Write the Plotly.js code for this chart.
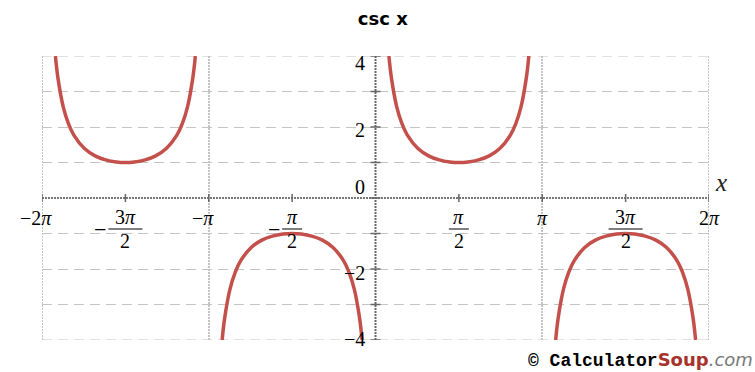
<!DOCTYPE html>
<html>
<head>
<meta charset="utf-8">
<script src="https://cdn.plot.ly/plotly-3.0.1.min.js"></script>
<style>html,body{margin:0;padding:0;background:#fff}#chart{width:755px;height:372px}</style>
</head>
<body>
<div id="chart"></div>
<script>
// csc x branches
var xA = [-6.0305,-5.9832,-5.8832,-5.7832,-5.6832,-5.4832,-5.2832,-5.0832,-4.8832,-4.7124,-4.5416,-4.3416,-4.1416,-3.9416,-3.7416,-3.6416,-3.5416,-3.4416,-3.3943];
var yA = [4.0,3.384,2.568,2.086,1.771,1.394,1.188,1.073,1.015,1.0,1.015,1.073,1.188,1.394,1.771,2.086,2.568,3.384,4.0];
var xB = [-2.8889,-2.8416,-2.7416,-2.6416,-2.5416,-2.3416,-2.1416,-1.9416,-1.7416,-1.5708,-1.4,-1.2,-1.0,-0.8,-0.6,-0.5,-0.4,-0.3,-0.2527];
var yB = [-4.0,-3.384,-2.568,-2.086,-1.771,-1.394,-1.188,-1.073,-1.015,-1.0,-1.015,-1.073,-1.188,-1.394,-1.771,-2.086,-2.568,-3.384,-4.0];
var xC = [0.2527,0.3,0.4,0.5,0.6,0.8,1.0,1.2,1.4,1.5708,1.7416,1.9416,2.1416,2.3416,2.5416,2.6416,2.7416,2.8416,2.8889];
var yC = [4.0,3.384,2.568,2.086,1.771,1.394,1.188,1.073,1.015,1.0,1.015,1.073,1.188,1.394,1.771,2.086,2.568,3.384,4.0];
var xD = [3.3943,3.4416,3.5416,3.6416,3.7416,3.9416,4.1416,4.3416,4.5416,4.7124,4.8832,5.0832,5.2832,5.4832,5.6832,5.7832,5.8832,5.9832,6.0305];
var yD = [-4.0,-3.384,-2.568,-2.086,-1.771,-1.394,-1.188,-1.073,-1.015,-1.0,-1.015,-1.073,-1.188,-1.394,-1.771,-2.086,-2.568,-3.384,-4.0];

// x tick labels (multiples of pi)
var xTickMult = [-2,-1.5,-1,-0.5,0.5,1,1.5,2];
var xTickSign = ['−','−','−','−','','','',''];
var xTickNum  = ['2π','3π','π','π','π','π','3π','2π'];
var xTickDen  = ['','2','','2','2','','2',''];
// y tick labels
var yTickVals = [4,2,0,-2,-4];
var yTickText = ['4','2','0','−2','−4'];
var yTickShift = [-7,-3,11,-4,1];

var PI = Math.PI;
var serif = 'Liberation Serif, Times New Roman, serif';
var curveColor = '#c4504b';
var vGrid = {color:'#c4c4c4', width:2, dash:'2px,1px'};
var hGrid = {color:'#c4c4c4', width:1, dash:'10px,6px'};

function branch(x, y){
  return {x:x, y:y, type:'scatter', mode:'lines', hoverinfo:'skip',
    line:{color:curveColor, width:3.5, shape:'spline', smoothing:1}, showlegend:false};
}
var data = [branch(xA,yA), branch(xB,yB), branch(xC,yC), branch(xD,yD)];

var shapes = [];
var annotations = [];

// frame lines (grid at range edges)
shapes.push({type:'line', xref:'x', yref:'y', x0:-2*PI, x1:-2*PI, y0:-4, y1:4, line:vGrid, layer:'below'});
shapes.push({type:'line', xref:'x', yref:'y', x0:2*PI, x1:2*PI, y0:-4, y1:4, line:vGrid, layer:'below'});
shapes.push({type:'line', xref:'x', yref:'y', x0:-2*PI, x1:2*PI, y0:4, y1:4, line:hGrid, layer:'below'});
shapes.push({type:'line', xref:'x', yref:'y', x0:-2*PI, x1:2*PI, y0:-4, y1:-4, line:hGrid, layer:'below'});

// axes lines
shapes.push({type:'line', xref:'x', yref:'y', x0:-2*PI, x1:2*PI, y0:0, y1:0, line:{color:'#777', width:2, dash:'2px,1px'}});
shapes.push({type:'line', xref:'x', yref:'y', x0:0, x1:0, y0:-4, y1:4, line:{color:'#666', width:2, dash:'2px,1px'}});

// y ticks
for (var v=-4; v<=4; v++){
  shapes.push({type:'line', xref:'x', yref:'y', xsizemode:'pixel', xanchor:0, x0:-5, x1:5, y0:v, y1:v, line:{color:'#666', width:1.5}});
}
// x ticks
for (var i=0;i<xTickMult.length;i++){
  shapes.push({type:'line', xref:'x', yref:'y', ysizemode:'pixel', yanchor:0, y0:-4, y1:4, x0:xTickMult[i]*PI, x1:xTickMult[i]*PI, line:{color:'#666', width:1.5}});
}

// x tick labels
for (var i=0;i<xTickMult.length;i++){
  var xv = xTickMult[i]*PI;
  var frac = xTickDen[i] !== '';
  var num = xTickNum[i].replace('π','<i>π</i>');
  if (!frac){
    annotations.push({x:xv, y:0, xref:'x', yref:'y', showarrow:false,
      text:xTickSign[i]+num, yshift:-20, xshift:(xTickSign[i]?-6:0),
      font:{family:serif, size:20, color:'#000'}});
  } else {
    annotations.push({x:xv, y:0, xref:'x', yref:'y', showarrow:false, text:num, yshift:-19,
      font:{family:serif, size:20, color:'#000'}});
    annotations.push({x:xv, y:0, xref:'x', yref:'y', showarrow:false, text:xTickDen[i], yshift:-43,
      font:{family:serif, size:20, color:'#000'}});
    var w = xTickNum[i].length > 1 ? 17 : 10;
    shapes.push({type:'line', xref:'x', yref:'y', xsizemode:'pixel', xanchor:xv, ysizemode:'pixel', yanchor:0,
      x0:-w, x1:w, y0:-31, y1:-31, line:{color:'#000', width:1}});
    if (xTickSign[i]){
      annotations.push({x:xv, y:0, xref:'x', yref:'y', showarrow:false, text:xTickSign[i], yshift:-31,
        xanchor:'right', xshift:-w, font:{family:serif, size:22, color:'#000'}});
    }
  }
}
// y tick labels
for (var j=0;j<yTickVals.length;j++){
  annotations.push({x:0, y:yTickVals[j], xref:'x', yref:'y', showarrow:false, text:yTickText[j],
    xanchor:'right', xshift:-9, yshift:yTickShift[j], font:{family:serif, size:20, color:'#000'}});
}
// x axis name
annotations.push({x:1, y:0, xref:'paper', yref:'y', showarrow:false, text:'<i>x</i>', xanchor:'left', xshift:4, yshift:16,
  font:{family:serif, size:25, color:'#222'}});
// watermark
annotations.push({x:1, y:0, xref:'paper', yref:'paper', showarrow:false, xanchor:'right', yanchor:'top', yshift:-7, xshift:46,
  text:'<b>© Calculator</b><span style="color:#a8322a;font-family:DejaVu Sans"><b>Soup</b></span><span style="color:#777;font-family:DejaVu Sans"><i>.com</i></span>',
  font:{family:'Liberation Mono, Courier New, monospace', size:18, color:'#000'}});

var layout = {
  width:755, height:372,
  margin:{l:42, r:46, t:56, b:32, pad:0},
  paper_bgcolor:'#fff', plot_bgcolor:'#fff',
  title:{text:'<b>csc x</b>', x:0.507, xanchor:'center', y:0.95, yanchor:'middle',
    font:{family:'DejaVu Sans, Verdana, sans-serif', size:18, color:'#000'}},
  xaxis:{range:[-2*PI, 2*PI], tickvals:[-PI,PI], showticklabels:false, ticks:'',
    showgrid:true, gridcolor:'#c4c4c4', gridwidth:2, griddash:'2px,1px', zeroline:false, showline:false, fixedrange:true},
  yaxis:{range:[-4,4], tickvals:[-3,-2,-1,1,2,3], showticklabels:false, ticks:'',
    showgrid:true, gridcolor:'#c4c4c4', gridwidth:1, griddash:'10px,6px', zeroline:false, showline:false, fixedrange:true},
  shapes:shapes,
  annotations:annotations,
  showlegend:false
};
Plotly.newPlot('chart', data, layout, {staticPlot:true, displayModeBar:false});
</script>
</body>
</html>
